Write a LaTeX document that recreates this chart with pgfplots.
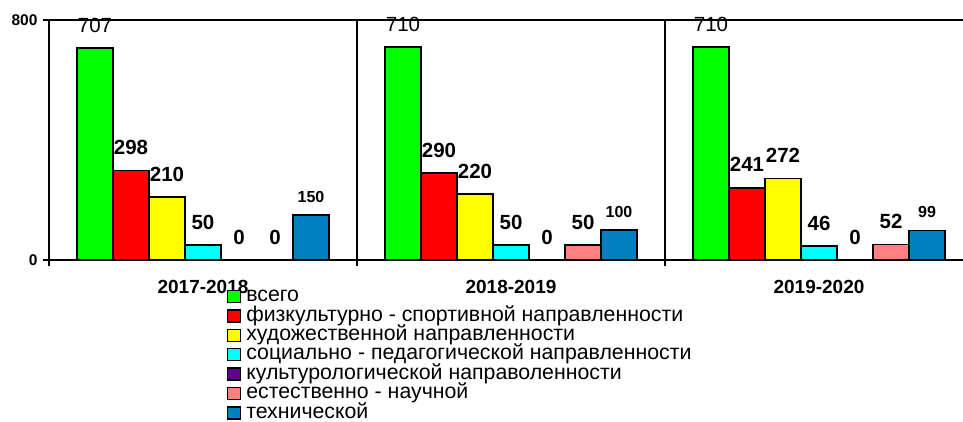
\documentclass[border=0pt]{standalone}
\usepackage{fontspec}
\setmainfont{Liberation Sans}
\usepackage{pgfplots}
\pgfplotsset{compat=1.18}
\definecolor{cgreen}{RGB}{0,255,0}
\definecolor{cred}{RGB}{255,0,0}
\definecolor{cyellow}{RGB}{255,255,0}
\definecolor{ccyan}{RGB}{0,255,255}
\definecolor{cpurple}{RGB}{96,0,140}
\definecolor{cpink}{RGB}{255,128,128}
\definecolor{cblue}{RGB}{0,128,192}
\begin{document}
\begin{tikzpicture}
\begin{axis}[
  at={(0,0)}, anchor=south west,
  scale only axis, width=924pt, height=240pt,
  xmin=0, xmax=3, ymin=0, ymax=800,
  clip=false,
  ybar=0pt, bar width=0.1169,
  axis line style={line width=2pt},
  xtick={0,1,2,3}, xticklabels={},
  ytick={0,800},
  tick align=outside, major tick length=6pt,
  xtick pos=bottom, ytick pos=left,
  every tick/.style={black, line width=2pt},
  xmajorgrids, major grid style={black, line width=2pt},
  /pgf/number format/assume math mode=true,
  yticklabel style={font=\fontsize{15.5}{17}\selectfont\bfseries, xshift=-2pt},
  extra x ticks={0.5,1.5,2.5},
  extra x tick labels={2017-2018,2018-2019,2019-2020},
  extra x tick style={major tick length=0pt, grid=none,
    tick label style={font=\fontsize{19}{22}\selectfont\bfseries, yshift=-17pt}},
  every axis plot/.append style={draw=black, line width=1.6pt},
  nodes near coords,
  every node near coord/.append style={anchor=base, inner sep=0pt, yshift=16pt, text=black,
    font=\fontsize{20.5}{24}\selectfont\bfseries},
  legend image code/.code={\draw[#1, draw=black, line width=1.4pt] (-1pt,-5.5pt) rectangle (12pt,6.5pt);},
  legend cell align=left,
  legend style={at={(0.1923,-0.1125)}, anchor=north west, draw=none, fill=none,
    inner sep=0pt, column sep=5pt, row sep=0pt,
    nodes={inner sep=0pt, text height=14.5pt, text depth=4.9pt},
    font=\fontsize{21.3}{22}\selectfont},
]
\addplot[fill=cgreen, every node near coord/.append style={font=\fontsize{20.5}{24}\selectfont\mdseries, yshift=-0.5pt}] coordinates {(0.5,707) (1.5,710) (2.5,710)};
\addplot[fill=cred] coordinates {(0.5,298) (1.5,290) (2.5,241)};
\addplot[fill=cyellow] coordinates {(0.5,210) (1.5,220) (2.5,272)};
\addplot[fill=ccyan] coordinates {(0.5,50) (1.5,50) (2.5,46)};
\addplot[fill=cpurple] coordinates {(0.5,0) (1.5,0) (2.5,0)};
\addplot[fill=cpink] coordinates {(0.5,0) (1.5,50) (2.5,52)};
\addplot[fill=cblue, every node near coord/.append style={font=\fontsize{16}{18}\selectfont\bfseries, yshift=-3pt}] coordinates {(0.5,150) (1.5,100) (2.5,99)};
\legend{всего, физкультурно - спортивной направленности, художественной направленности, социально - педагогической направленности, культурологической направоленности, естественно - научной, технической}
\end{axis}
\pgfresetboundingbox
\path (-49pt,-161pt) rectangle (914pt,260pt);
\end{tikzpicture}
\end{document}
